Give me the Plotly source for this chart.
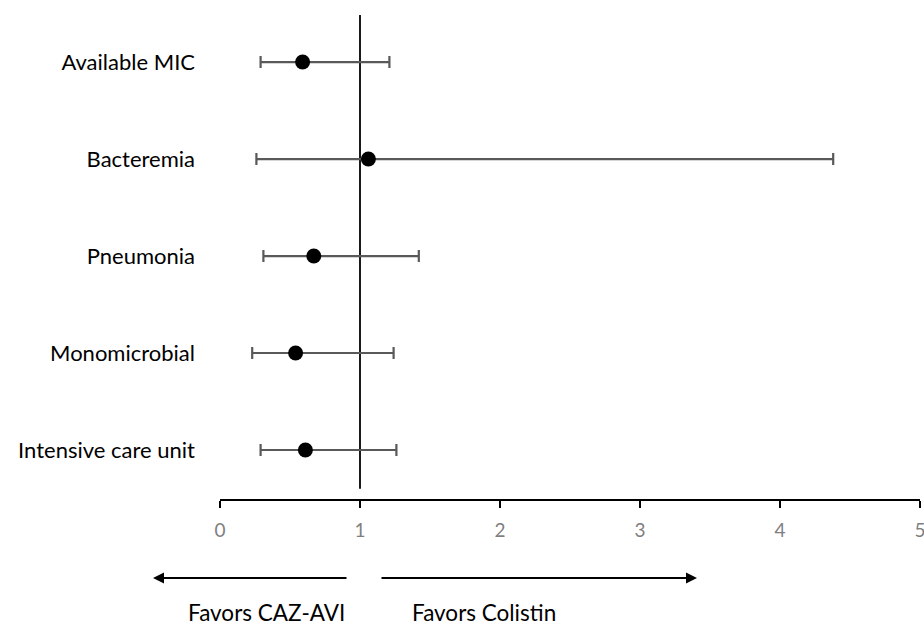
import plotly.graph_objects as go

categories = ["Available MIC", "Bacteremia", "Pneumonia", "Monomicrobial", "Intensive care unit"]
odds_ratio = [0.59, 1.06, 0.67, 0.54, 0.61]
ci_lower = [0.29, 0.26, 0.31, 0.23, 0.29]
ci_upper = [1.21, 4.38, 1.42, 1.24, 1.26]
x_ticks = [0, 1, 2, 3, 4, 5]

n = len(categories)
ypos = [n - 1 - i for i in range(n)]

fig = go.Figure()
fig.add_trace(go.Scatter(
    x=odds_ratio, y=ypos, mode="markers",
    marker=dict(color="black", size=15),
    error_x=dict(type="data", symmetric=False,
                 array=[u - o for u, o in zip(ci_upper, odds_ratio)],
                 arrayminus=[o - l for o, l in zip(odds_ratio, ci_lower)],
                 color="#595959", thickness=2.2, width=6),
    showlegend=False, cliponaxis=False,
))

fig.add_shape(type="line", xref="x", yref="y", x0=1, x1=1, y0=-0.40, y1=4.485,
              line=dict(color="black", width=1.8), layer="below")

font_main = "Lato"
fig.update_layout(
    width=924, height=625,
    margin=dict(l=220, r=4, t=15, b=126),
    paper_bgcolor="white", plot_bgcolor="white",
    font=dict(family=font_main, color="black"),
    xaxis=dict(range=[0, 5], tickvals=x_ticks, ticktext=[str(v) for v in x_ticks],
               showgrid=False, zeroline=False, showline=True, linecolor="black", linewidth=2,
               ticks="outside", ticklen=7, tickwidth=2, tickcolor="black",
               tickfont=dict(size=19, color="#7f7f7f", family=font_main),
               ticklabelstandoff=6, ticklabeloverflow="allow", automargin=False,
               fixedrange=True),
    yaxis=dict(range=[-0.505, 4.485], tickvals=ypos, ticktext=categories,
               showgrid=False, zeroline=False, showline=False, ticks="",
               tickfont=dict(size=22, color="black", family=font_main),
               ticklabelstandoff=24, automargin=False, fixedrange=True),
)

# Direction arrows (pixel offsets from tips)
fig.add_annotation(xref="paper", yref="paper", x=(153 - 220) / 700, y=(499 - 578) / 484,
                   ax=195, ay=0, text="", showarrow=True, arrowhead=2, arrowsize=1.1,
                   arrowwidth=2, arrowcolor="black")
fig.add_annotation(xref="paper", yref="paper", x=(697 - 220) / 700, y=(499 - 578) / 484,
                   ax=-317, ay=0, text="", showarrow=True, arrowhead=2, arrowsize=1.1,
                   arrowwidth=2, arrowcolor="black")
fig.add_annotation(xref="paper", yref="paper", x=(266 - 220) / 700, y=(499 - 612) / 484,
                   text="Favors CAZ-AVI", showarrow=False, xanchor="center", yanchor="middle",
                   font=dict(size=22.5, color="black", family=font_main))
fig.add_annotation(xref="paper", yref="paper", x=(484 - 220) / 700, y=(499 - 612) / 484,
                   text="Favors Colistin", showarrow=False, xanchor="center", yanchor="middle",
                   font=dict(size=22.5, color="black", family=font_main))

fig.write_html("out.html", config={"displayModeBar": False},
               post_script="document.body.style.margin='0';document.body.style.overflow='hidden';")
